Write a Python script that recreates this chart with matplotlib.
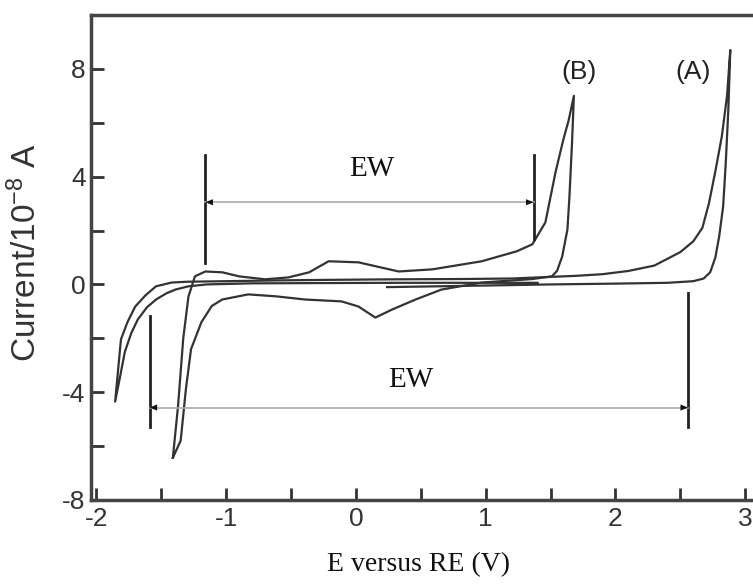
import matplotlib.pyplot as plt
from matplotlib.ticker import MultipleLocator

plt.rcParams["axes.unicode_minus"] = False
plt.rcParams["mathtext.fontset"] = "custom"
plt.rcParams["mathtext.rm"] = "Liberation Sans"
plt.rcParams["mathtext.it"] = "Liberation Sans:italic"

# curve A (wide window), E in V, current in 1e-8 A
a_e = [0.24, 0.5, 1.0, 1.5, 2.0, 2.4, 2.6, 2.68, 2.73, 2.77, 2.80, 2.83, 2.85, 2.87, 2.885,
       2.86, 2.82, 2.77, 2.72, 2.67, 2.6, 2.5, 2.4, 2.3, 2.1, 1.9, 1.7, 1.5, 1.2, 0.8, 0.3,
       -0.2, -0.6, -1.0, -1.3, -1.42, -1.54, -1.62, -1.70, -1.76, -1.81, -1.855,
       -1.82, -1.78, -1.73, -1.68, -1.61, -1.54, -1.46, -1.39, -1.29, -1.15, -0.8, -0.3, 0.3, 1.0, 1.4]
a_i = [-0.1, -0.08, -0.04, 0.0, 0.03, 0.06, 0.12, 0.22, 0.45, 1.0, 1.8, 2.9, 4.5, 6.5, 8.7,
       7.0, 5.5, 4.2, 3.0, 2.1, 1.6, 1.2, 0.95, 0.7, 0.5, 0.38, 0.32, 0.28, 0.22, 0.2, 0.19,
       0.17, 0.15, 0.12, 0.1, 0.07, -0.07, -0.4, -0.82, -1.4, -2.04, -4.35,
       -3.5, -2.5, -1.8, -1.3, -0.85, -0.56, -0.33, -0.19, -0.07, 0.0, 0.04, 0.05, 0.06, 0.06, 0.06]

# curve B (narrow window)
b_e = [-1.41, -1.37, -1.33, -1.29, -1.24, -1.16, -1.03, -0.9, -0.7, -0.52, -0.36, -0.21,
       0.02, 0.33, 0.59, 0.97, 1.24, 1.36, 1.46, 1.54, 1.60, 1.64, 1.68,
       1.665, 1.645, 1.63, 1.59, 1.55, 1.51, 1.36, 0.97, 0.66, 0.46, 0.28, 0.15, 0.02,
       -0.11, -0.39, -0.62, -0.83, -1.03, -1.11, -1.19, -1.27, -1.31, -1.35, -1.41]
b_i = [-6.43, -4.5, -2.0, -0.45, 0.3, 0.48, 0.45, 0.3, 0.19, 0.26, 0.45, 0.86,
       0.82, 0.48, 0.56, 0.86, 1.23, 1.49, 2.3, 4.2, 5.4, 6.1, 7.0,
       5.2, 3.2, 2.04, 1.04, 0.5, 0.3, 0.2, 0.07, -0.19, -0.56, -0.93, -1.23, -0.82,
       -0.63, -0.56, -0.44, -0.37, -0.56, -0.8, -1.4, -2.4, -3.9, -5.8, -6.43]

# electrochemical window markers
ew_b = {"left": -1.16, "right": 1.37, "arrow": 3.05,
        "left_bar": (0.8, 4.8), "right_bar": (1.67, 4.8), "text": (0.12, 4.3)}
ew_a = {"left": -1.59, "right": 2.56, "arrow": -4.57,
        "left_bar": (-5.28, -1.19), "right_bar": (-5.28, -0.3), "text": (0.42, -3.53)}

curve_color = "#333333"

fig = plt.figure(figsize=(7.53, 5.88), dpi=100)
ax = fig.add_axes([0.121, 0.1497, 0.879, 0.8248])

ax.plot(a_e, a_i, color=curve_color, lw=1.6)
ax.plot(b_e, b_i, color=curve_color, lw=1.6)

for ew in (ew_b, ew_a):
    ax.plot([ew["left"]] * 2, ew["left_bar"], color="#222222", lw=2)
    ax.plot([ew["right"]] * 2, ew["right_bar"], color="#222222", lw=2)
    ax.plot([ew["left"], ew["right"]], [ew["arrow"]] * 2, color="#aaaaaa", lw=1.2)
    for tip, tail in ((ew["left"], ew["left"] + 0.12), (ew["right"], ew["right"] - 0.12)):
        ax.annotate("", xy=(tip, ew["arrow"]), xytext=(tail, ew["arrow"]),
                    arrowprops=dict(arrowstyle="-|>,head_length=0.55,head_width=0.22",
                                    color="#111111", lw=0, shrinkA=0, shrinkB=0))
    ax.text(*ew["text"], "EW", family="Liberation Serif", fontsize=21,
            ha="center", va="center", color="#111111")

ax.text(1.72, 7.9, "(B)", family="Liberation Sans", fontsize=19, ha="center", va="center", color="#222222")
ax.text(2.60, 7.9, "(A)", family="Liberation Sans", fontsize=19, ha="center", va="center", color="#222222")

ax.set_xlim(-2.04, 3.06)
ax.set_ylim(-8, 10)
ax.xaxis.set_major_locator(MultipleLocator(1))
ax.xaxis.set_minor_locator(MultipleLocator(0.5))
ax.set_yticks([-8, -6, -4, -2, 0, 2, 4, 6, 8])
ax.set_yticklabels(["-8", "", "-4", "", "0", "", "4", "", "8"])
ax.tick_params(which="both", direction="in", length=9, width=2, color="#333333",
               labelsize=19, labelcolor="#333333")
ax.tick_params(axis="x", pad=5)
ax.tick_params(axis="y", pad=4)
for lab in ax.get_xticklabels() + ax.get_yticklabels():
    lab.set_family("Liberation Sans")

for side in ("left", "bottom", "top"):
    ax.spines[side].set_linewidth(2.5)
    ax.spines[side].set_color("#444444")
ax.spines["right"].set_visible(False)

ax.set_ylabel("Current/10$^{\\mathrm{-8}}$ A", family="Liberation Sans", fontsize=24, color="#333333")
ax.yaxis.set_label_coords(-0.073, 0.51)
ax.set_xlabel("E versus RE (V)", family="Liberation Serif", fontsize=20, color="#111111")
ax.xaxis.set_label_coords(0.495, -0.108)

fig.savefig("out.png", dpi=100)
